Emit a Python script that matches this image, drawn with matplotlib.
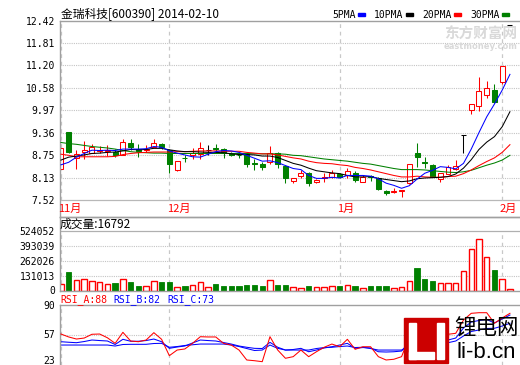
import matplotlib
matplotlib.use("Agg")
import matplotlib.pyplot as plt
from matplotlib.patches import Rectangle

plt.rcParams['font.family'] = ['DejaVu Sans', 'Noto Sans CJK SC']

# ---------------- data ----------------
title = "金瑞科技[600390] 2014-02-10"
opens = [8.36, 9.37, 8.68, 8.82, 8.80, 8.85, 8.86, 8.84, 8.75, 9.07,
         8.90, 8.88, 8.98, 9.05, 8.88, 8.35, 8.68, 8.76, 8.77, 8.88,
         8.94, 8.90, 8.80, 8.76, 8.77, 8.53, 8.49, 8.56, 8.80, 8.45,
         8.04, 8.18, 8.26, 8.00, 8.13, 8.14, 8.23, 8.20, 8.25, 8.02,
         8.17, 8.12, 7.77, 7.74, 7.76, 7.98, 8.81, 8.56, 8.48, 8.09,
         8.23, 8.36, 9.30, 9.98, 10.09, 10.39, 10.52, 10.73, 12.30]
highs = [8.93, 9.38, 8.89, 9.13, 9.05, 9.00, 9.02, 8.90, 9.18, 9.18,
         9.04, 9.02, 9.19, 9.08, 8.90, 8.58, 8.75, 8.93, 9.09, 9.02,
         9.05, 8.93, 8.82, 8.80, 8.79, 8.63, 8.57, 8.99, 8.82, 8.48,
         8.13, 8.35, 8.28, 8.09, 8.25, 8.35, 8.25, 8.40, 8.30, 8.20,
         8.20, 8.15, 7.80, 7.85, 7.79, 8.50, 9.07, 8.70, 8.50, 8.27,
         8.47, 8.61, 9.30, 10.14, 10.87, 10.77, 10.68, 11.18, 12.30]
lows = [8.36, 8.80, 8.36, 8.63, 8.80, 8.80, 8.72, 8.70, 8.75, 8.88,
        8.69, 8.84, 8.97, 8.90, 8.27, 8.32, 8.57, 8.63, 8.63, 8.75,
        8.81, 8.68, 8.72, 8.66, 8.43, 8.34, 8.34, 8.50, 8.39, 7.98,
        7.99, 8.11, 7.90, 7.98, 8.02, 8.13, 8.12, 8.11, 8.00, 8.00,
        8.05, 7.79, 7.67, 7.70, 7.59, 7.96, 8.43, 8.38, 8.14, 8.02,
        8.23, 8.34, 8.79, 9.86, 9.96, 10.30, 10.18, 10.69, 12.30]
closes = [8.93, 8.84, 8.78, 8.89, 8.96, 8.88, 8.88, 8.75, 9.09, 8.96,
          8.87, 8.92, 9.07, 8.96, 8.49, 8.58, 8.67, 8.80, 8.93, 8.88,
          8.92, 8.81, 8.74, 8.74, 8.49, 8.51, 8.41, 8.80, 8.49, 8.11,
          8.11, 8.26, 7.98, 8.07, 8.15, 8.25, 8.15, 8.31, 8.07, 8.16,
          8.15, 7.82, 7.71, 7.76, 7.78, 8.50, 8.69, 8.54, 8.16, 8.25,
          8.43, 8.45, 9.30, 10.14, 10.50, 10.57, 10.20, 11.18, 12.30]
volumes = [59000, 163000, 89000, 104000, 80000, 74000, 59000, 65000, 104000, 74000,
           44000, 44000, 80000, 74000, 74000, 33000, 44000, 53000, 71000, 33000,
           56000, 41000, 36000, 44000, 47000, 47000, 36000, 95000, 53000, 53000,
           33000, 24000, 44000, 33000, 33000, 41000, 36000, 50000, 36000, 24000,
           36000, 41000, 36000, 24000, 33000, 80000, 201000, 98000, 80000, 68000,
           68000, 68000, 175000, 370000, 459000, 299000, 178000, 104000, 16792]
ma5 = [8.48, 8.55, 8.69, 8.79, 8.88, 8.87, 8.88, 8.87, 8.91, 8.91,
       8.91, 8.92, 8.98, 8.96, 8.86, 8.80, 8.75, 8.70, 8.69, 8.77,
       8.84, 8.87, 8.86, 8.82, 8.74, 8.66, 8.58, 8.59, 8.54, 8.46,
       8.38, 8.35, 8.19, 8.11, 8.11, 8.14, 8.12, 8.19, 8.19, 8.19,
       8.17, 8.10, 7.98, 7.92, 7.84, 7.91, 8.09, 8.25, 8.33, 8.43,
       8.41, 8.37, 8.52, 8.91, 9.36, 9.79, 10.14, 10.52, 10.95]
ma10 = [8.61, 8.69, 8.72, 8.75, 8.79, 8.80, 8.82, 8.83, 8.86, 8.90,
        8.89, 8.90, 8.93, 8.93, 8.89, 8.86, 8.84, 8.84, 8.83, 8.82,
        8.82, 8.81, 8.78, 8.76, 8.76, 8.75, 8.72, 8.72, 8.68, 8.60,
        8.52, 8.47, 8.39, 8.32, 8.29, 8.26, 8.24, 8.19, 8.15, 8.15,
        8.16, 8.11, 8.08, 8.05, 8.02, 8.04, 8.10, 8.12, 8.13, 8.14,
        8.16, 8.23, 8.39, 8.62, 8.90, 9.10, 9.25, 9.52, 9.93]
ma20 = [8.77, 8.74, 8.70, 8.70, 8.70, 8.70, 8.70, 8.71, 8.76, 8.79,
        8.81, 8.82, 8.83, 8.83, 8.83, 8.84, 8.84, 8.85, 8.86, 8.86,
        8.86, 8.85, 8.85, 8.85, 8.82, 8.80, 8.78, 8.78, 8.75, 8.71,
        8.67, 8.64, 8.58, 8.54, 8.52, 8.51, 8.48, 8.46, 8.41, 8.38,
        8.34, 8.29, 8.24, 8.19, 8.15, 8.15, 8.17, 8.15, 8.14, 8.14,
        8.16, 8.17, 8.24, 8.34, 8.46, 8.57, 8.67, 8.82, 9.03]
ma30 = [9.09, 9.06, 9.04, 9.01, 8.98, 8.96, 8.94, 8.91, 8.87, 8.84,
        8.82, 8.81, 8.80, 8.80, 8.79, 8.79, 8.79, 8.79, 8.79, 8.79,
        8.79, 8.79, 8.79, 8.79, 8.79, 8.78, 8.78, 8.78, 8.78, 8.77,
        8.74, 8.73, 8.70, 8.67, 8.64, 8.62, 8.60, 8.58, 8.55, 8.52,
        8.50, 8.46, 8.42, 8.38, 8.35, 8.35, 8.35, 8.34, 8.32, 8.30,
        8.28, 8.27, 8.29, 8.33, 8.40, 8.47, 8.53, 8.61, 8.74]
rsi_a = [57.6, 54.3, 52.0, 53.1, 57.3, 57.6, 53.4, 47.2, 59.5, 49.8,
         49.0, 50.9, 59.1, 51.7, 33.4, 39.7, 40.9, 47.2, 54.6, 54.3,
         54.3, 47.2, 45.3, 39.7, 28.6, 27.8, 26.7, 54.6, 39.7, 30.5,
         32.3, 39.7, 32.3, 37.8, 42.8, 46.4, 43.4, 51.7, 40.5, 43.4,
         43.4, 32.3, 28.6, 29.4, 32.3, 54.3, 56.5, 50.9, 48.7, 49.0,
         57.3, 58.4, 73.2, 80.7, 81.4, 81.4, 69.6, 75.5, 80.7]
rsi_b = [49.0, 48.4, 47.9, 49.2, 50.9, 50.3, 49.8, 45.9, 51.7, 49.5,
         49.5, 50.3, 52.0, 49.0, 41.6, 43.1, 44.2, 47.6, 50.9, 50.3,
         49.8, 48.1, 46.4, 44.2, 42.8, 41.6, 41.4, 48.3, 42.8, 39.7,
         40.3, 41.6, 37.8, 39.7, 42.0, 43.4, 45.3, 47.2, 41.6, 42.5,
         42.0, 37.8, 37.5, 37.8, 38.6, 48.7, 50.9, 47.6, 46.4, 47.6,
         50.9, 53.1, 64.3, 71.0, 72.7, 73.8, 69.9, 74.4, 78.8]
rsi_c = [45.3, 45.3, 45.3, 45.3, 45.3, 45.3, 45.3, 44.2, 45.9, 46.1,
         46.1, 46.1, 47.0, 47.2, 42.8, 43.6, 44.8, 45.6, 46.4, 46.4,
         46.4, 46.4, 45.3, 43.6, 41.4, 39.2, 39.7, 45.3, 41.6, 39.7,
         39.7, 39.7, 39.7, 41.4, 42.5, 42.8, 43.6, 44.2, 42.5, 42.8,
         41.4, 39.7, 39.7, 39.7, 39.7, 44.2, 45.3, 44.2, 43.6, 45.9,
         47.9, 49.8, 55.4, 60.4, 62.1, 63.8, 64.0, 66.5, 69.6]
price_ticks = [12.42, 11.81, 11.20, 10.58, 9.97, 9.36, 8.75, 8.13, 7.52]
vol_ticks = [524052, 393039, 262026, 131013, 0]
rsi_ticks = [90, 57, 23]
month_labels = ["11月", "12月", "1月", "2月"]
month_starts = [0, 14, 36, 57]
legend_names = ["5PMA", "10PMA", "20PMA", "30PMA"]
vol_title = "成交量:16792"
rsi_titles = ["RSI_A:88", "RSI_B:82", "RSI_C:73"]

# ---------------- styling ----------------
W, H = 520, 365
RED, GREEN, BLUE, BLACK = '#ff0000', '#008000', '#0000ff', '#000000'
GRID = '#c4c4c4'
FRAME = '#a0a0a0'
LW = 0.75
MONO = ['DejaVu Sans Mono']
CJK = ['Noto Sans CJK SC', 'DejaVu Sans']

fig = plt.figure(figsize=(W / 100, H / 100), dpi=100)


def px_axes(x0, y0, x1, y1):
    return fig.add_axes([x0 / W, 1 - y1 / H, (x1 - x0) / W, (y1 - y0) / H])


def ftext(xp, yp, s, **kw):
    fig.text(xp / W, 1 - yp / H, s, **kw)


n = len(closes)
xs = list(range(n))
XLIM = (-0.19, 59.3)

ax1 = px_axes(59.5, 20.5, 520, 217)
ax2 = px_axes(59.5, 217, 520, 290.5)
ax3 = px_axes(59.5, 305, 520, 365)

for ax in (ax1, ax2, ax3):
    ax.set_xlim(*XLIM)
    ax.set_xticks([])
    ax.spines['right'].set_visible(False)
    for s in ('left', 'top', 'bottom'):
        ax.spines[s].set_color(FRAME)
        ax.spines[s].set_linewidth(1.0)
    ax.tick_params(axis='y', length=0, labelsize=7, pad=3.2)
    ax.patch.set_alpha(0)
ax3.spines['bottom'].set_visible(False)

# ---------- price panel ----------
ax1.set_ylim(7.056, 12.42)
ax1.set_yticks(price_ticks)
ax1.set_yticklabels(["%.2f" % v for v in price_ticks], family=MONO)
for v in price_ticks[1:-1]:
    ax1.axhline(v, color=GRID, lw=0.8, ls=(0, (1, 1)), zorder=0)
ax1.axhline(price_ticks[-1], color='#b8b8b8', lw=0.9, zorder=0)
ax1.vlines(month_starts, price_ticks[-1], price_ticks[0], colors='#c8c8c8',
           lw=0.9, linestyles=(0, (3, 3)), zorder=0)
for m, lab in zip(month_starts, month_labels):
    ax1.text(m - 0.35, 7.29, lab, color=RED, fontsize=8, family=CJK,
             ha='left', va='center')

# watermark
ax1.text(0.995, 0.93, "东方财富网", transform=ax1.transAxes, color='#d9d9d9',
         fontsize=10.5, family=CJK, fontweight='bold', ha='right', va='center', zorder=0.5)
ax1.text(0.995, 0.87, "eastmoney.com", transform=ax1.transAxes, color='#d9d9d9',
         fontsize=6, fontweight='bold', ha='right', va='center', zorder=0.5)

BW = 0.64
for i in xs:
    o, h, l, c = opens[i], highs[i], lows[i], closes[i]
    top, bot = max(o, c), min(o, c)
    if c > o:
        ax1.vlines(i, top, h, color=RED, lw=LW, zorder=2)
        ax1.vlines(i, l, bot, color=RED, lw=LW, zorder=2)
        ax1.add_patch(Rectangle((i - BW / 2, bot), BW, top - bot, facecolor='white',
                                edgecolor=RED, lw=LW, zorder=2))
    elif c < o:
        ax1.vlines(i, l, h, color=GREEN, lw=LW, zorder=2)
        ax1.add_patch(Rectangle((i - BW / 2, bot), BW, top - bot, facecolor=GREEN,
                                edgecolor=GREEN, lw=LW, zorder=2))
    else:
        ax1.vlines(i, l, h, color=BLACK, lw=LW, zorder=2)
        ax1.hlines(o, i - BW / 2, i + BW / 2, color=BLACK, lw=LW, zorder=2)

for arr, col in ((ma30, GREEN), (ma20, RED), (ma10, BLACK), (ma5, BLUE)):
    ax1.plot(xs, arr, color=col, lw=LW, zorder=3)

# ---------- volume panel ----------
ax2.set_ylim(0, 650636)
ax2.set_yticks(vol_ticks)
ax2.set_yticklabels([str(v) for v in vol_ticks], family=MONO)
ax2.axhline(vol_ticks[0], color='#b0b0b0', lw=0.9, zorder=0)
for v in vol_ticks[1:-1]:
    ax2.axhline(v, color=GRID, lw=0.8, ls=(0, (1, 1)), zorder=0)
ax2.vlines(month_starts, 0, vol_ticks[0], colors='#c8c8c8', lw=0.9,
           linestyles=(0, (3, 3)), zorder=0)
VW = 0.70
for i in xs:
    if closes[i] >= opens[i]:
        ax2.add_patch(Rectangle((i - VW / 2, 0), VW, volumes[i], facecolor='white',
                                edgecolor=RED, lw=1.0, zorder=2))
    else:
        ax2.add_patch(Rectangle((i - VW / 2, 0), VW, volumes[i], facecolor=GREEN,
                                edgecolor=GREEN, lw=0.6, zorder=2))

# ---------- RSI panel ----------
ax3.set_ylim(23, 90)
ax3.set_yticks([])
ax3.axhline(57, color=GRID, lw=0.8, ls=(0, (1, 1)), zorder=0)
ax3.vlines(month_starts, 23, 90, colors='#c8c8c8', lw=0.9,
           linestyles=(0, (3, 3)), zorder=0)
ax3.plot(xs, rsi_c, color=BLUE, lw=LW, zorder=2)
ax3.plot(xs, rsi_b, color=BLUE, lw=LW, zorder=2)
ax3.plot(xs, rsi_a, color=RED, lw=LW, zorder=3)
for v, yp in zip(rsi_ticks, (306, 335, 360.5)):
    ftext(55.5, yp, str(v), ha='right', va='center', fontsize=7, family=MONO)

# ---------- texts ----------
ftext(61, 14, title, fontsize=8.5, family=CJK, va='center', ha='left')
leg_x = [332, 374, 422, 470]
leg_c = [BLUE, BLACK, RED, GREEN]
for xp, name, col in zip(leg_x, legend_names, leg_c):
    ftext(xp, 14.5, name, fontsize=7, family=MONO, va='center', ha='left')
    w = len(name) * 5.85 + 3
    fig.add_artist(Rectangle(((xp + w) / W, 1 - 15.5 / H), 6.5 / W, 3 / H,
                             transform=fig.transFigure, color=col))
ftext(60, 224.5, vol_title, fontsize=8.5, family=CJK, va='center', ha='left')
rsi_x = [60, 113, 167]
for xp, s, col in zip(rsi_x, rsi_titles, (RED, BLUE, BLUE)):
    ftext(xp, 299.5, s, fontsize=7, family=MONO, color=col, va='center', ha='left')

# li-b.cn logo
fig.add_artist(Rectangle((404 / W, 1 - 363 / H), 44 / W, 45 / H,
                         transform=fig.transFigure, color='#cc0000', zorder=5))
for (x0, y0, x1, y1) in ((409, 323, 416, 359), (409, 352, 434, 359), (437, 323, 444, 359)):
    fig.add_artist(Rectangle((x0 / W, 1 - y1 / H), (x1 - x0) / W, (y1 - y0) / H,
                             transform=fig.transFigure, color='white', zorder=6))
ftext(486.5, 329, "锂电网", fontsize=15.5, family=CJK, ha='center', va='center', zorder=6)
ftext(486.5, 352, "li-b.cn", fontsize=16, family=['Liberation Sans'], ha='center',
      va='center', zorder=6)

fig.savefig("out.png", dpi=100)
